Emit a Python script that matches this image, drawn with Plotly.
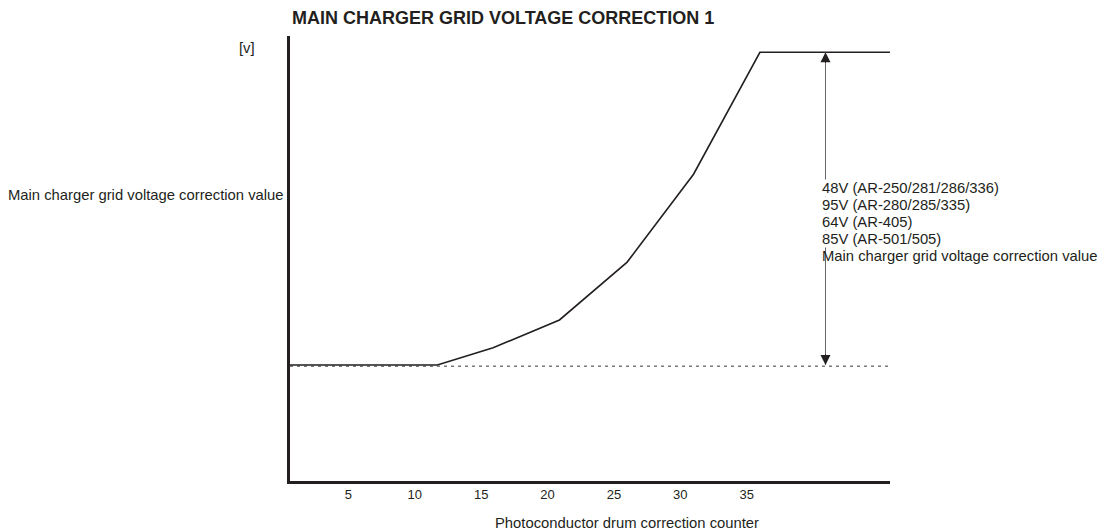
import plotly.graph_objects as go

# Correction curve: counter value vs. grid voltage correction (% of full correction)
counter = [0.6, 11.7, 15.9, 20.9, 26.0, 31.0, 36.0, 45.8]
correction = [0, 0, 5.5, 14.4, 32.9, 61.0, 100, 100]

tick_vals = [5, 10, 15, 20, 25, 30, 35]

model_lines = [
    "48V (AR-250/281/286/336)",
    "95V (AR-280/285/335)",
    "64V (AR-405)",
    "85V (AR-501/505)",
    "Main charger grid voltage correction value",
]
model_line_y = [56.6, 51.2, 45.7, 40.3, 34.8]

x_range = [0.6, 45.8]
y_range = [-37.1, 105.2]
arrow_x = 40.94
text_x = 40.6

ink = "#231f20"
font_family = "Liberation Sans, Arial, sans-serif"

fig = go.Figure()

# baseline (no correction) dotted reference
fig.add_trace(go.Scatter(
    x=[x_range[0], x_range[1]], y=[-0.4, -0.4], mode="lines",
    line=dict(color="#7a7a7a", width=1.3, dash="3px,4px"),
    hoverinfo="skip", showlegend=False,
))

fig.add_trace(go.Scatter(
    x=counter, y=correction, mode="lines",
    line=dict(color=ink, width=1.6),
    showlegend=False,
))

# vertical dimension line between baseline and maximum correction
fig.add_shape(type="line", x0=arrow_x, x1=arrow_x, y0=0, y1=100,
              line=dict(color="#666666", width=1), layer="above")

annotations = []
for tip_y, shift in [(100, 12), (0, -12)]:
    annotations.append(dict(
        x=arrow_x, y=tip_y, ax=0, ay=shift, xref="x", yref="y",
        showarrow=True, arrowhead=2, arrowsize=2, arrowwidth=1,
        arrowcolor=ink, text="",
    ))

for i, (line, ly) in enumerate(zip(model_lines, model_line_y)):
    annotations.append(dict(
        x=text_x, y=ly, xref="x", yref="y", text=line, showarrow=False,
        xanchor="left", yanchor="middle", borderpad=0,
        bgcolor="white" if i < len(model_lines) - 1 else "rgba(0,0,0,0)",
        font=dict(family=font_family, size=14.8, color=ink),
    ))

# axis captions and title
annotations.append(dict(
    x=0, y=54.4, xref="paper", yref="y", xshift=-4, xanchor="right",
    yanchor="middle", showarrow=False,
    text="Main charger grid voltage correction value",
    font=dict(family=font_family, size=14.8, color=ink),
))
annotations.append(dict(
    x=0, y=101.4, xref="paper", yref="y", xshift=-33, xanchor="right",
    yanchor="middle", showarrow=False, text="[v]",
    font=dict(family=font_family, size=14.8, color=ink),
))
annotations.append(dict(
    x=0, y=1.0404, xref="paper", yref="paper", xshift=0, xanchor="left",
    yanchor="middle", showarrow=False,
    text="<b>MAIN CHARGER GRID VOLTAGE CORRECTION 1</b>",
    font=dict(family=font_family, size=18, color=ink),
))
annotations.append(dict(
    x=0.561, y=-0.0944, xref="paper", yref="paper", xanchor="center",
    yanchor="middle", showarrow=False,
    text="Photoconductor drum correction counter",
    font=dict(family=font_family, size=14.8, color=ink),
))

fig.update_layout(
    width=1101, height=532,
    margin=dict(l=290, r=211, t=36, b=51, pad=0),
    paper_bgcolor="white", plot_bgcolor="white",
    annotations=annotations,
    xaxis=dict(
        range=x_range, tickvals=tick_vals, ticks="", showgrid=False,
        zeroline=False, showline=True, linecolor=ink, linewidth=2.5,
        tickfont=dict(family=font_family, size=13, color=ink),
        ticklabelstandoff=0,
    ),
    yaxis=dict(
        range=y_range, showticklabels=False, ticks="", showgrid=False,
        zeroline=False, showline=True, linecolor=ink, linewidth=2.5,
    ),
)

fig.write_html("out.html")
